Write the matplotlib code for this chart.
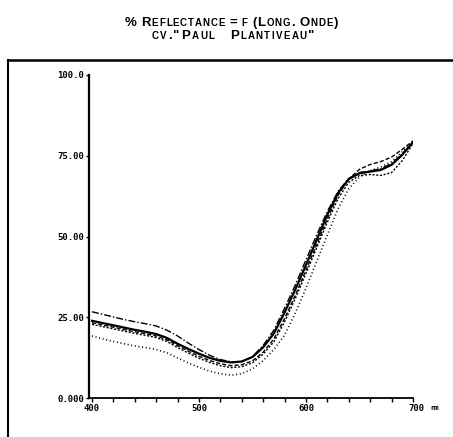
import numpy as np
import matplotlib
matplotlib.use("Agg")
import matplotlib.pyplot as plt
from matplotlib.lines import Line2D
from matplotlib.ticker import MultipleLocator, FixedLocator

# longueur d'onde (nm)
wl = [400, 410, 420, 430, 440, 450, 460, 470, 480, 490, 500,
      510, 520, 530, 540, 550, 560, 570, 580, 590, 600,
      610, 620, 630, 640, 650, 660, 670, 680, 690, 700]

# % reflectance, 5 mesures
r_dashdot = [26.7, 25.9, 25.1, 24.3, 23.6, 23.0, 22.3, 21.0, 19.2, 17.0, 15.0,
             13.2, 11.9, 11.2, 11.3, 12.8, 16.3, 21.0, 27.8, 35.0, 42.8,
             50.5, 57.8, 64.0, 68.0, 69.8, 70.3, 71.0, 72.6, 75.6, 79.2]
r_solid = [23.9, 23.2, 22.5, 21.8, 21.1, 20.5, 19.8, 18.6, 16.8, 15.2, 13.7,
           12.4, 11.5, 11.0, 11.3, 12.7, 15.7, 20.0, 26.5, 33.6, 41.2,
           49.0, 56.8, 63.5, 67.8, 69.6, 70.1, 70.6, 72.2, 75.3, 79.2]
r_dashed = [23.3, 22.6, 21.9, 21.2, 20.5, 19.9, 19.2, 18.0, 16.2, 14.5, 12.9,
            11.6, 10.6, 10.0, 10.3, 11.5, 14.2, 18.3, 24.6, 31.8, 39.6,
            47.5, 55.5, 62.8, 67.8, 70.8, 72.3, 73.2, 74.6, 77.0, 79.6]
r_shortdash = [22.8, 22.1, 21.4, 20.7, 20.0, 19.4, 18.7, 17.5, 15.6, 13.9, 12.3,
               11.0, 10.0, 9.4, 9.7, 10.9, 13.6, 17.4, 23.6, 30.8, 38.6,
               46.5, 54.5, 61.8, 66.8, 68.9, 69.2, 68.9, 69.8, 73.5, 78.8]
r_dotted = [19.2, 18.3, 17.5, 16.8, 16.1, 15.6, 15.0, 14.0, 12.4, 10.8, 9.5,
            8.3, 7.5, 7.1, 7.5, 9.0, 11.6, 15.0, 19.5, 26.3, 34.0,
            42.3, 50.5, 58.6, 64.8, 68.4, 70.4, 71.5, 73.2, 76.2, 79.3]

y_ticks = [0, 25, 50, 75, 100]
y_labels = ["0.000", "25.00", "50.00", "75.00", "100.0"]
x_ticks = [400, 500, 600]
x_labels = ["400", "500", "600"]

W, H = 453, 437
fig = plt.figure(figsize=(W / 100, H / 100), dpi=100)
fig.patch.set_facecolor("white")


def small_caps(s, xc, yb, big=9.5, small=7.0, track=0.9, space=3.6):
    # petites capitales : minuscules -> majuscules plus petites
    renderer = fig.canvas.get_renderer()
    items = []
    for ch in s:
        if ch == " ":
            items.append((None, space))
            continue
        size = small if ch.islower() else big
        t = fig.text(0, 0, ch.upper(), fontsize=size, fontweight="bold",
                     family="Liberation Sans", va="baseline", ha="left")
        w = t.get_window_extent(renderer).width
        items.append((t, w + track))
    total = sum(w for _, w in items)
    x = xc - total / 2
    for t, w in items:
        if t is not None:
            t.set_position((x / W, 1 - yb / H))
        x += w


small_caps("% Reflectance = f (Long. Onde)", 232, 26)
small_caps('cv."Paul  Plantiveau"', 234, 39, track=1.4, space=7.0)

# cadre exterieur
fig.add_artist(Line2D([8 / W, 1.0], [1 - 60 / H, 1 - 60 / H],
                      transform=fig.transFigure, color="black", lw=1.8))
fig.add_artist(Line2D([8 / W, 8 / W], [1 - 60 / H, 0.0],
                      transform=fig.transFigure, color="black", lw=1.5))

ax = fig.add_axes([89 / W, (H - 398) / H, (413 - 89) / W, (398 - 75) / H])
ax.plot(wl, r_dashdot, color="black", lw=1.0, ls=(0, (5, 1.5, 1, 1.5)))
ax.plot(wl, r_solid, color="black", lw=1.6, ls="-")
ax.plot(wl, r_dashed, color="black", lw=1.0, ls=(0, (3, 1.5)))
ax.plot(wl, r_shortdash, color="black", lw=1.0, ls=(0, (1.5, 1.2)))
ax.plot(wl, r_dotted, color="black", lw=1.2, ls=(0, (0.6, 1.6)))

ax.set_xlim(397.2, 700)
ax.set_ylim(0, 100)
for side in ["top", "right"]:
    ax.spines[side].set_visible(False)
ax.spines["left"].set_linewidth(1.6)
ax.spines["bottom"].set_linewidth(1.3)

ax.yaxis.set_major_locator(FixedLocator(y_ticks))
ax.set_yticklabels(y_labels)
ax.xaxis.set_major_locator(FixedLocator(x_ticks))
ax.set_xticklabels(x_labels)
ax.xaxis.set_minor_locator(MultipleLocator(20))
ax.tick_params(axis="y", direction="out", length=2.5, width=1, pad=0.8,
               labelsize=6.5)
ax.tick_params(axis="x", which="both", direction="out", length=3, width=1,
               pad=1.2, labelsize=6.5)
for lab in ax.get_xticklabels() + ax.get_yticklabels():
    lab.set_family("DejaVu Sans Mono")
    lab.set_fontweight("bold")

ax.annotate("700", xy=(700, 0), xycoords=("data", "axes fraction"),
            xytext=(-3.5, -4.2), textcoords="offset points",
            ha="left", va="top", fontsize=6.5, family="DejaVu Sans Mono",
            fontweight="bold")
ax.annotate("nm", xy=(700, 0), xycoords=("data", "axes fraction"),
            xytext=(12.5, -5), textcoords="offset points",
            ha="left", va="top", fontsize=5, family="DejaVu Sans Mono",
            fontweight="bold")

fig.savefig("out.png", dpi=100, facecolor="white")
